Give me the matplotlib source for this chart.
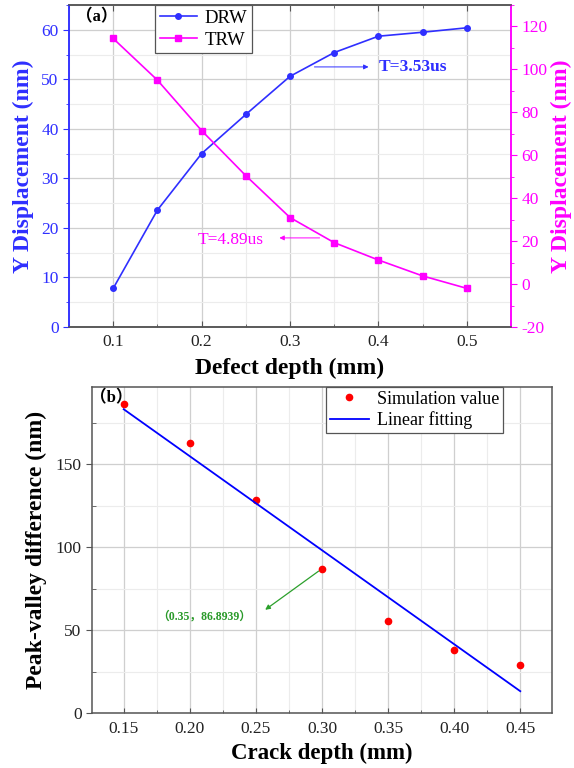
import numpy as np
import matplotlib
matplotlib.use("Agg")
import matplotlib.pyplot as plt
from matplotlib.ticker import MultipleLocator

plt.rcParams["font.family"] = ["Liberation Serif", "Noto Sans CJK SC"]
plt.rcParams["axes.unicode_minus"] = False

# panel (a)
depth_a = [0.10, 0.15, 0.20, 0.25, 0.30, 0.35, 0.40, 0.45, 0.50]
drw = [7.8, 23.6, 35.0, 42.9, 50.6, 55.4, 58.7, 59.5, 60.4]
trw = [114.4, 95.0, 71.5, 50.5, 31.0, 19.3, 11.2, 3.8, -2.0]

# panel (b)
depth_b = [0.15, 0.20, 0.25, 0.30, 0.35, 0.40, 0.45]
peak_valley = [186.1, 162.8, 128.2, 87.0, 55.5, 38.1, 29.1]

BLUE = "#2f2fff"
MAG = "#ff00ff"
GRID_MAJ = "#cfcfcf"
GRID_MIN = "#ececec"
SPINE = "#555555"

W, H = 574, 768
fig = plt.figure(figsize=(W / 100, H / 100), dpi=100)


def px_axes(l, t, r, b):
    return fig.add_axes([l / W, 1 - b / H, (r - l) / W, (b - t) / H])


# ---------------- (a) ----------------
ax = px_axes(69, 5, 511, 327)
ax2 = ax.twinx()

ax.plot(depth_a, drw, color=BLUE, lw=1.2, marker="o", ms=4, label="DRW")
ax2.plot(depth_a, trw, color=MAG, lw=1.2, marker="s", ms=3.8, label="TRW")

ax.set_xlim(0.05, 0.55)
ax.set_ylim(0, 65)
ax2.set_ylim(-20, 130)
ax.xaxis.set_major_locator(MultipleLocator(0.1))
ax.xaxis.set_minor_locator(MultipleLocator(0.05))
ax.yaxis.set_major_locator(MultipleLocator(10))
ax.yaxis.set_minor_locator(MultipleLocator(5))
ax2.yaxis.set_major_locator(MultipleLocator(20))
ax2.yaxis.set_minor_locator(MultipleLocator(10))
ax.xaxis.set_major_formatter(plt.FuncFormatter(lambda v, p: f"{v:.1f}"))

ax.grid(True, which="major", color=GRID_MAJ, lw=0.9)
ax.grid(True, which="minor", color=GRID_MIN, lw=0.8)
ax.set_axisbelow(True)

ax.tick_params(axis="x", which="both", direction="in", top=True, labelsize=12.5,
               colors=SPINE, labelcolor="#222222", pad=5)
ax.tick_params(axis="x", which="major", length=4)
ax.tick_params(axis="x", which="minor", length=2)
ax.tick_params(axis="y", which="both", direction="out", colors=BLUE, labelsize=12.5)
ax.tick_params(axis="y", which="major", length=4)
ax.tick_params(axis="y", which="minor", length=2)
ax2.tick_params(axis="y", which="both", direction="out", colors=MAG, labelsize=12.5)
ax2.tick_params(axis="y", which="major", length=4)
ax2.tick_params(axis="y", which="minor", length=2)

for a in (ax, ax2):
    a.spines["top"].set_color(SPINE)
    a.spines["bottom"].set_color(SPINE)
    a.spines["left"].set_color(BLUE)
    a.spines["right"].set_color(MAG)
    for s in a.spines.values():
        s.set_linewidth(1.1)

ax.set_xlabel("Defect depth (mm)", fontsize=17, fontweight="bold", labelpad=6)
ax.set_ylabel("Y Displacement (nm)", fontsize=17, fontweight="bold", color=BLUE, labelpad=5)
ax2.set_ylabel("Y Displacement (nm)", fontsize=17, fontweight="bold", color=MAG, labelpad=2)

ax.annotate("", xy=(0.392, 52.5), xytext=(0.3245, 52.5),
            arrowprops=dict(arrowstyle="-|>", color=BLUE, lw=0.7, mutation_scale=7))
ax.text(0.400, 52.5, "T=3.53us", color=BLUE, fontsize=12.5, fontweight="bold", va="center")
ax2.annotate("", xy=(0.2848, 21.5), xytext=(0.3366, 21.5),
             arrowprops=dict(arrowstyle="-|>", color=MAG, lw=0.7, mutation_scale=7))
ax2.text(0.1954, 20.5, "T=4.89us", color=MAG, fontsize=12.5, va="center")

h1, l1 = ax.get_legend_handles_labels()
h2, l2 = ax2.get_legend_handles_labels()
leg = ax2.legend(h1 + h2, l1 + l2, loc="upper left", bbox_to_anchor=(155 / W, 1 - 5 / H),
                 bbox_transform=fig.transFigure, borderaxespad=0, fancybox=False,
                 framealpha=1, edgecolor=SPINE, fontsize=13.5, handlelength=2.0,
                 handletextpad=0.4, borderpad=0.25, labelspacing=0.25)
leg.get_frame().set_linewidth(0.9)

fig.text(76 / W, 1 - 17 / H, "（a）", fontsize=12, fontweight="bold", va="center", ha="left")

# ---------------- (b) ----------------
bx = px_axes(92, 387, 552, 713)
bx.plot(depth_b, peak_valley, "o", color="red", ms=4.5, ls="none", label="Simulation value")
slope, icpt = np.polyfit(depth_b, peak_valley, 1)
fit_x = np.array([depth_b[0], depth_b[-1]])
bx.plot(fit_x, slope * fit_x + icpt, color="blue", lw=1.3, label="Linear fitting")

bx.set_xlim(0.126, 0.474)
bx.set_ylim(0, 196.5)
bx.xaxis.set_major_locator(MultipleLocator(0.05))
bx.xaxis.set_minor_locator(MultipleLocator(0.025))
bx.yaxis.set_major_locator(MultipleLocator(50))
bx.yaxis.set_minor_locator(MultipleLocator(25))
bx.xaxis.set_major_formatter(plt.FuncFormatter(lambda v, p: f"{v:.2f}"))
bx.grid(True, which="major", color=GRID_MAJ, lw=0.9)
bx.grid(True, which="minor", color=GRID_MIN, lw=0.8)
bx.set_axisbelow(True)
bx.tick_params(axis="both", which="both", labelsize=12.5, colors=SPINE, labelcolor="#222222")
bx.tick_params(axis="x", which="both", direction="in", pad=6)
bx.tick_params(axis="y", which="major", direction="out", length=4)
bx.tick_params(axis="y", which="minor", direction="in", length=3)
for s in bx.spines.values():
    s.set_color(SPINE)
    s.set_linewidth(1.1)

bx.set_xlabel("Crack depth (mm)", fontsize=16.5, fontweight="bold", labelpad=4)
bx.set_ylabel("Peak-valley difference (nm)", fontsize=17, fontweight="bold", labelpad=6)

bx.annotate("", xy=(0.257, 62.2), xytext=(depth_b[3], peak_valley[3]),
            arrowprops=dict(arrowstyle="-|>", color="#2ca02c", lw=0.9, mutation_scale=7,
                            shrinkA=3, shrinkB=0))
bx.text(0.211, 58, "（0.35，86.8939）", color="#2a9a2a", fontsize=8.5, fontweight="bold",
        ha="center", va="center")

legb = bx.legend(loc="upper left", bbox_to_anchor=(326 / W, 1 - 387 / H),
                 bbox_transform=fig.transFigure, borderaxespad=0, fancybox=False,
                 framealpha=1, edgecolor=SPINE, fontsize=13, handlelength=2.2,
                 handletextpad=0.4, borderpad=0.2, labelspacing=0.2)
legb.get_frame().set_linewidth(0.9)

fig.text(90 / W, 1 - 398 / H, "（b）", fontsize=12, fontweight="bold", va="center", ha="left")

fig.savefig("out.png", dpi=100)
